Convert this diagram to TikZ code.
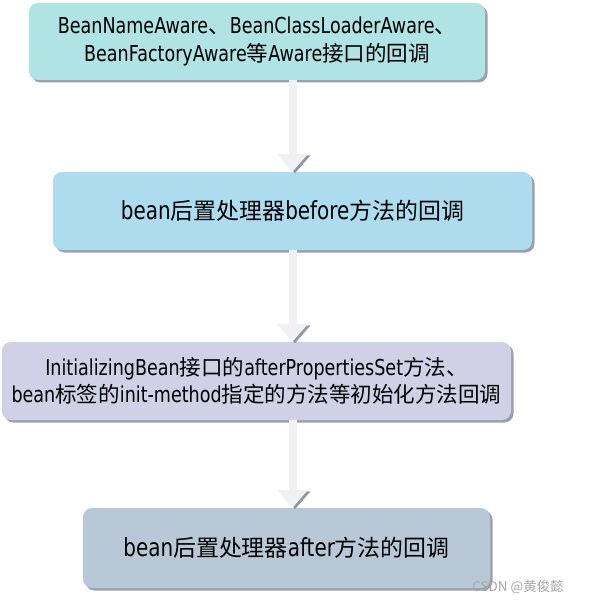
\documentclass[tikz,border=0pt]{standalone}
\usepackage{fontspec}
\setmainfont{DejaVu Sans}[FakeStretch=0.8]
\newfontfamily\cjk{Noto Sans CJK SC}
\usetikzlibrary{shadows, arrows.meta}

\definecolor{awarecol}{HTML}{B0E3E4}
\definecolor{beforecol}{HTML}{ADDCEF}
\definecolor{initcol}{HTML}{D0D0E6}
\definecolor{aftercol}{HTML}{B9C8D6}
\definecolor{shadecol}{HTML}{9494A8}
\definecolor{flowcol}{HTML}{F1F1F3}
\def\zhsz{21.6}
\newcommand\zh[1]{{\cjk\fontsize{\zhsz}{27.5}\selectfont #1}}

\begin{document}
\begin{tikzpicture}[x=1bp, y=-1bp,
    stepbox/.style={rounded corners=9bp, align=center, inner sep=0pt,
      font=\fontsize{22}{27.5}\selectfont,
      drop shadow={shadow xshift=2.5bp, shadow yshift=-2.5bp, fill=shadecol, opacity=0.9}},
    bigtext/.style={font={\def\zhsz{23}\fontsize{25}{27.5}\selectfont}},
    flow/.style={line width=8bp, draw=flowcol, -{Triangle[width=30bp, length=18bp]},
      preaction={draw=shadecol, transform canvas={shift={(2.5bp,-1.5bp)}}}}]
  \useasboundingbox (0,0) rectangle (597,603);
  % four steps of the callbacks
  \node[stepbox, fill=awarecol, minimum width=456bp, minimum height=77bp] (aware) at (257,41.5)
    {BeanNameAware\zh{、}BeanClassLoaderAware\zh{、}\\BeanFactoryAware\zh{等}Aware\zh{接口的回调}};
  \node[stepbox, bigtext, fill=beforecol, minimum width=479bp, minimum height=78bp] (before) at (292.5,211)
    {bean\zh{后置处理器}before\zh{方法的回调}};
  \node[stepbox, fill=initcol, minimum width=509bp, minimum height=78bp] (init) at (256.5,381)
    {InitializingBean\zh{接口的}afterPropertiesSet\zh{方法、}\\bean\zh{标签的}init-method\zh{指定的方法等初始化方法回调}};
  \node[stepbox, bigtext, fill=aftercol, minimum width=407bp, minimum height=80bp] (after) at (286.5,548)
    {bean\zh{后置处理器}after\zh{方法的回调}};
  % block arrows
  \draw[flow] (aware.south -| before.north) -- (before.north);
  \draw[flow] (before.south) -- (init.north -| before.south);
  \draw[flow] (init.south -| before.south) -- (after.north -| before.south);
  % watermark
  \node[text=gray!70, font=\cjk\fontsize{13.5}{14}\selectfont] (mark) at (518,587) {CSDN @黄俊懿};
\end{tikzpicture}
\end{document}
